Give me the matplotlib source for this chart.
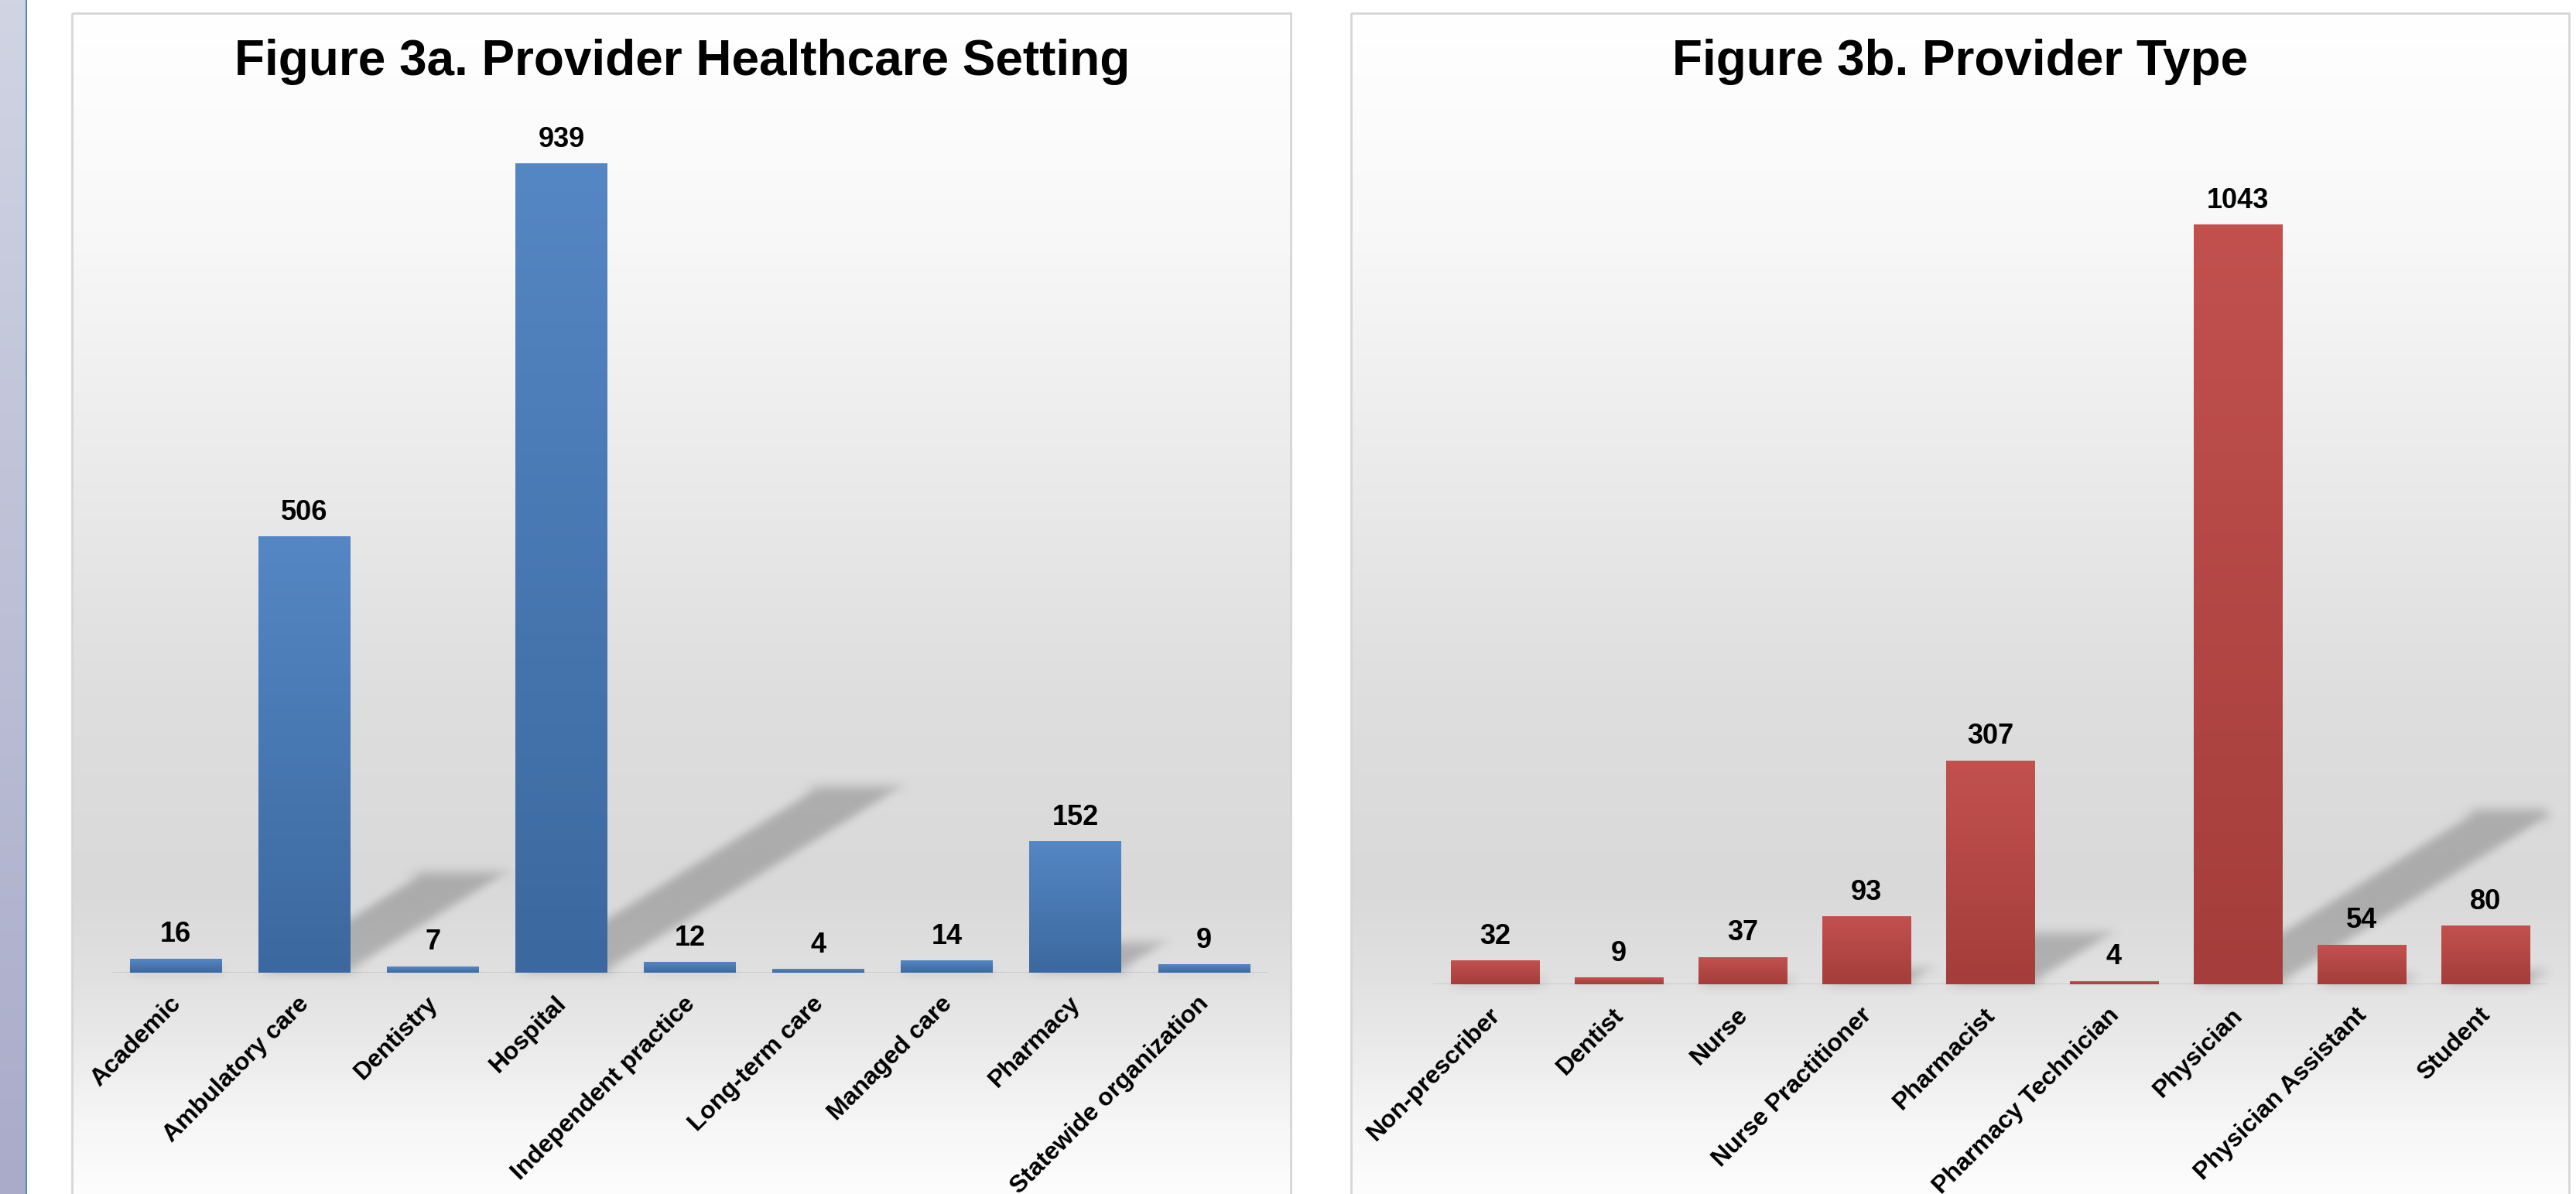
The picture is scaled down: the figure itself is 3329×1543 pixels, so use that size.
import numpy as np
import matplotlib.pyplot as plt
import matplotlib.transforms as mtransforms
from matplotlib.patches import Rectangle, Polygon
from matplotlib.colors import LinearSegmentedColormap

plt.rcParams['font.family'] = ['Liberation Sans', 'DejaVu Sans']

settings = ['Academic', 'Ambulatory care', 'Dentistry', 'Hospital', 'Independent practice',
            'Long-term care', 'Managed care', 'Pharmacy', 'Statewide organization']
setting_counts = [16, 506, 7, 939, 12, 4, 14, 152, 9]

provider_types = ['Non-prescriber', 'Dentist', 'Nurse', 'Nurse Practitioner', 'Pharmacist',
                  'Pharmacy Technician', 'Physician', 'Physician Assistant', 'Student']
provider_counts = [32, 9, 37, 93, 307, 4, 1043, 54, 80]

W, H = 3330, 1543
fig = plt.figure(figsize=(W / 100, H / 100), dpi=100)

# background layer in pixel coordinates (y grows downward)
bg = fig.add_axes([0, 0, 1, 1], zorder=0)
bg.set_xlim(0, W)
bg.set_ylim(H, 0)
bg.axis('off')

# side strip
strip = np.linspace(0, 1, 256).reshape(-1, 1)
strip_cmap = LinearSegmentedColormap.from_list('strip', ['#d0d4e3', '#a9abc9'])
bg.imshow(strip, cmap=strip_cmap, extent=(0, 33, H, 0), aspect='auto')
bg.add_patch(Rectangle((33, 0), 2.5, H, color='#5b84c4', lw=0))

# chart area fill: light at the top, grey near the floor, light again below
ys = np.arange(H)
stops_y = [17, 300, 600, 900, 1150, 1265, 1350, 1450, 1543]
stops_v = [255, 248, 235, 222, 217, 225, 234, 246, 253]
grey = np.interp(ys, stops_y, stops_v) / 255.0
fill = np.repeat(grey[:, None, None], 3, axis=2)

for left, right in [(93, 1668), (1746, 3320)]:
    bg.imshow(fill[17:], extent=(left, right, H, 17), aspect='auto', interpolation='bilinear')
    bg.add_patch(Rectangle((left, 17), right - left, H, fill=False, ec='#d6d6d6', lw=2))
bg.set_xlim(0, W)
bg.set_ylim(H, 0)


def soft(im, dpi, sigma=7):
    r = int(3 * sigma)
    k = np.exp(-0.5 * (np.arange(-r, r + 1) / sigma) ** 2)
    k /= k.sum()
    a = np.pad(im, ((r, r), (r, r), (0, 0)))
    for axis in (0, 1):
        out = np.zeros_like(a)
        for i, w in enumerate(k):
            out += w * np.roll(a, i - r, axis=axis)
        a = out
    return a, -r, -r


def px_axes(left, top, right, bottom):
    return fig.add_axes([left / W, 1 - bottom / H, (right - left) / W, (bottom - top) / H], zorder=1)


def draw_panel(ax, labels, values, top_color, bottom_color, ymax):
    x = np.arange(len(labels))
    bars = ax.bar(x, values, width=0.715, color='none', lw=0, zorder=3)
    cmap = LinearSegmentedColormap.from_list('bar', [bottom_color, top_color])
    grad = np.linspace(1, 0, 256).reshape(-1, 1)
    for rect in bars:
        x0, w, h = rect.get_x(), rect.get_width(), rect.get_height()
        ax.imshow(grad, cmap=cmap, extent=(x0, x0 + w, 0, h), aspect='auto',
                  interpolation='bilinear', zorder=3)
    ax.set_xlim(-0.5, len(labels) - 0.5)
    ax.set_ylim(0, ymax)
    ax.patch.set_alpha(0)
    for s in ax.spines.values():
        s.set_visible(False)
    ax.set_yticks([])

    # perspective shadows cast up and to the right
    tr = ax.transData
    for rect in bars:
        (x0, y0), (x1, y1) = tr.transform([(rect.get_x(), 0),
                                           (rect.get_x() + rect.get_width(), rect.get_height())])
        hp = y1 - y0
        dx, dy = 0.37 * hp, 0.23 * hp
        pts = [(x0, y0), (x1, y0), (x1 + dx, y0 + dy), (x0 + dx, y0 + dy)]
        poly = Polygon(tr.inverted().transform(pts), closed=True, fc='black', alpha=0.21,
                       lw=0, zorder=2)
        poly.set_agg_filter(soft)
        ax.add_patch(poly)

    ax.axhline(0, color='#c8c8c8', lw=2, zorder=1.5)
    ax.bar_label(bars, padding=10, fontsize=26, fontweight='bold')
    ax.set_xticks(x, labels, rotation=45, ha='right', va='top', fontsize=23, fontweight='bold')
    ax.tick_params(axis='x', length=0, pad=18)
    shift = mtransforms.ScaledTranslation(9 / 72, 0, fig.dpi_scale_trans)
    for lab in ax.get_xticklabels():
        lab.set_transform(lab.get_transform() + shift)


ax_a = px_axes(144, 144, 1639, 1257)
draw_panel(ax_a, settings, setting_counts, '#5587c4', '#3b689e', 1000)

ax_b = px_axes(1852, 237, 3292, 1272)
draw_panel(ax_b, provider_types, provider_counts, '#c2514e', '#a43d3b', 1100)

fig.text(882 / W, 1 - 97 / H, 'Figure 3a. Provider Healthcare Setting', ha='center', va='baseline',
         fontsize=46, fontweight='bold')
fig.text(2533 / W, 1 - 97 / H, 'Figure 3b. Provider Type', ha='center', va='baseline',
         fontsize=46, fontweight='bold')

fig.savefig('out.png', dpi=100)
